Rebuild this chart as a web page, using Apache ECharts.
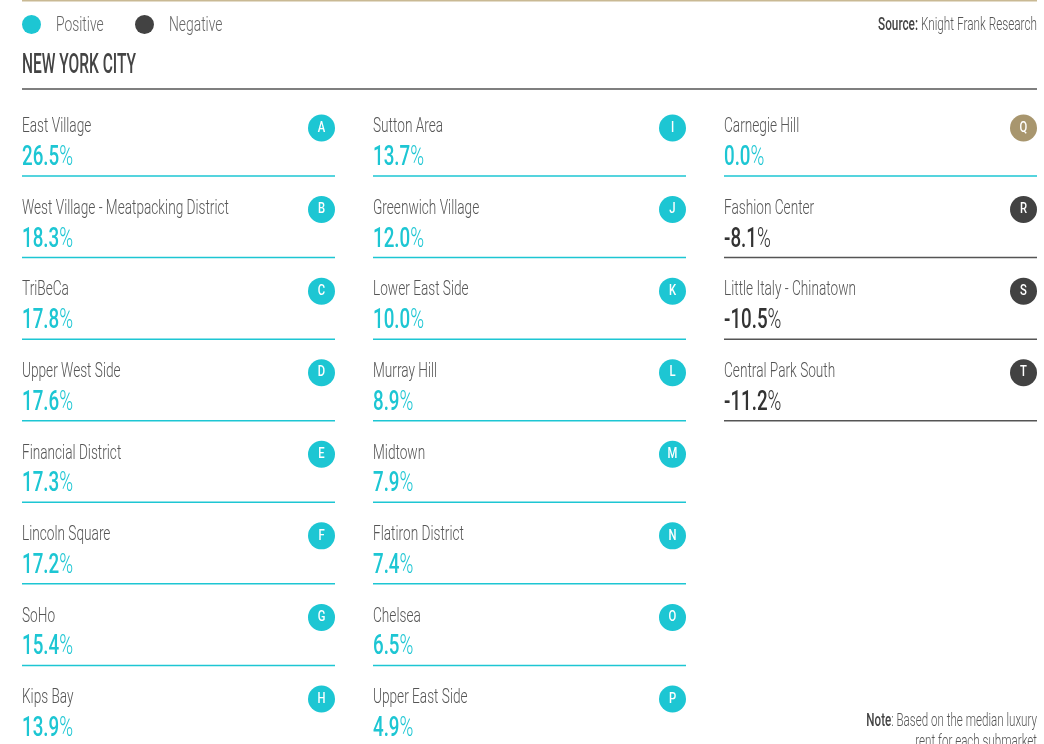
<!DOCTYPE html>
<html>
<head>
<meta charset="utf-8">
<script src="https://cdn.jsdelivr.net/npm/echarts@6/dist/echarts.min.js"></script>
<style>
  html, body { margin: 0; padding: 0; background: #fff; }
  #main { width: 1044px; height: 744px; }
</style>
</head>
<body>
<div id="main"></div>
<script>
var areas = ['East Village', 'West Village - Meatpacking District', 'TriBeCa', 'Upper West Side',
  'Financial District', 'Lincoln Square', 'SoHo', 'Kips Bay',
  'Sutton Area', 'Greenwich Village', 'Lower East Side', 'Murray Hill',
  'Midtown', 'Flatiron District', 'Chelsea', 'Upper East Side',
  'Carnegie Hill', 'Fashion Center', 'Little Italy - Chinatown', 'Central Park South'];
var changes = [26.5, 18.3, 17.8, 17.6, 17.3, 17.2, 15.4, 13.9,
  13.7, 12.0, 10.0, 8.9, 7.9, 7.4, 6.5, 4.9,
  0.0, -8.1, -10.5, -11.2];
var letters = ['A', 'B', 'C', 'D', 'E', 'F', 'G', 'H', 'I', 'J', 'K', 'L', 'M', 'N', 'O', 'P', 'Q', 'R', 'S', 'T'];
var legendNames = ['Positive', 'Negative'];
var ROWS = 8;

var FONT = 'Roboto, "Liberation Sans", sans-serif';
var cyan = '#1dc6d3';
var dark = '#424242';
var tan = '#a8966e';

var chart = echarts.init(document.getElementById('main'));

// one cell per submarket: name, value, letter badge, rule underneath
function renderItem(params, api) {
  var i = params.dataIndex;
  var p = api.coord([api.value(0), api.value(1)]);
  var x = p[0], y = p[1];
  var v = api.value(2);
  var neg = v < 0;
  var dot = v === 0 ? tan : (neg ? dark : cyan);
  return {
    type: 'group',
    children: [
      {
        type: 'text', x: x, y: y + 2, scaleX: 0.65,
        style: { text: areas[i], font: '300 21px ' + FONT, fill: '#555', verticalAlign: 'middle' }
      },
      {
        type: 'text', x: x, y: y + 33, scaleX: 0.67,
        style: {
          text: '{n|' + v.toFixed(1) + '}{p|%}',
          verticalAlign: 'middle',
          rich: {
            n: { fontFamily: FONT, fontSize: 28, fontWeight: 500, fill: neg ? '#333' : cyan },
            p: { fontFamily: FONT, fontSize: 28, fontWeight: 300, fill: neg ? '#333' : cyan }
          }
        }
      },
      { type: 'circle', shape: { cx: x + 299.5, cy: y + 3, r: 13.5 }, style: { fill: dot } },
      {
        type: 'text', x: x + 299.5, y: y + 3, scaleX: 0.75,
        style: { text: letters[i], align: 'center', verticalAlign: 'middle', fill: '#fff', font: '500 15px ' + FONT }
      },
      {
        type: 'line',
        shape: { x1: x, y1: y + 51, x2: x + 313, y2: y + 51 },
        style: { stroke: neg ? '#555' : cyan, lineWidth: 1.5 }
      }
    ]
  };
}

chart.setOption({
  animation: false,
  grid: { left: 22, right: 7, top: 125, bottom: 0 },
  xAxis: { type: 'value', min: 0, max: 1015 / 351, show: false },
  yAxis: { type: 'value', min: 0, max: 619 / 81.57, inverse: true, show: false },
  graphic: [
    { type: 'line', shape: { x1: 22, y1: 0.5, x2: 1037, y2: 0.5 }, style: { stroke: '#c9b994', lineWidth: 2 } },
    { type: 'circle', shape: { cx: 31.5, cy: 24.5, r: 9.5 }, style: { fill: cyan } },
    { type: 'text', x: 56, y: 26, scaleX: 0.66, style: { text: legendNames[0], font: '300 21px ' + FONT, fill: '#666', verticalAlign: 'middle' } },
    { type: 'circle', shape: { cx: 144.5, cy: 24.5, r: 9.5 }, style: { fill: dark } },
    { type: 'text', x: 169, y: 26, scaleX: 0.66, style: { text: legendNames[1], font: '300 21px ' + FONT, fill: '#666', verticalAlign: 'middle' } },
    {
      type: 'text', x: 1037, y: 25, scaleX: 0.62,
      style: {
        text: '{b|Source:} Knight Frank Research', align: 'right', verticalAlign: 'middle',
        rich: {
          b: { fontFamily: FONT, fontSize: 19, fontWeight: 500, fill: '#444' }
        },
        font: '300 19px ' + FONT, fill: '#555'
      }
    },
    { type: 'text', x: 22, y: 66, scaleX: 0.575, style: { text: 'NEW YORK CITY', font: '500 27px ' + FONT, fill: '#444', verticalAlign: 'middle' } },
    { type: 'line', shape: { x1: 22, y1: 89, x2: 1037, y2: 89 }, style: { stroke: '#555', lineWidth: 1.5 } },
    {
      type: 'text', x: 1037, y: 721, scaleX: 0.645,
      style: {
        text: '{b|Note}: Based on the median luxury', align: 'right', verticalAlign: 'middle',
        rich: { b: { fontFamily: FONT, fontSize: 18, fontWeight: 500, fill: '#444' } },
        font: '300 18px ' + FONT, fill: '#555'
      }
    },
    {
      type: 'text', x: 1037, y: 742, scaleX: 0.645,
      style: { text: 'rent for each submarket', align: 'right', verticalAlign: 'middle', font: '300 18px ' + FONT, fill: '#555' }
    }
  ],
  series: [{
    type: 'custom',
    renderItem: renderItem,
    data: areas.map(function (a, i) {
      return [Math.floor(i / ROWS), i % ROWS, changes[i]];
    })
  }]
});
</script>
</body>
</html>
